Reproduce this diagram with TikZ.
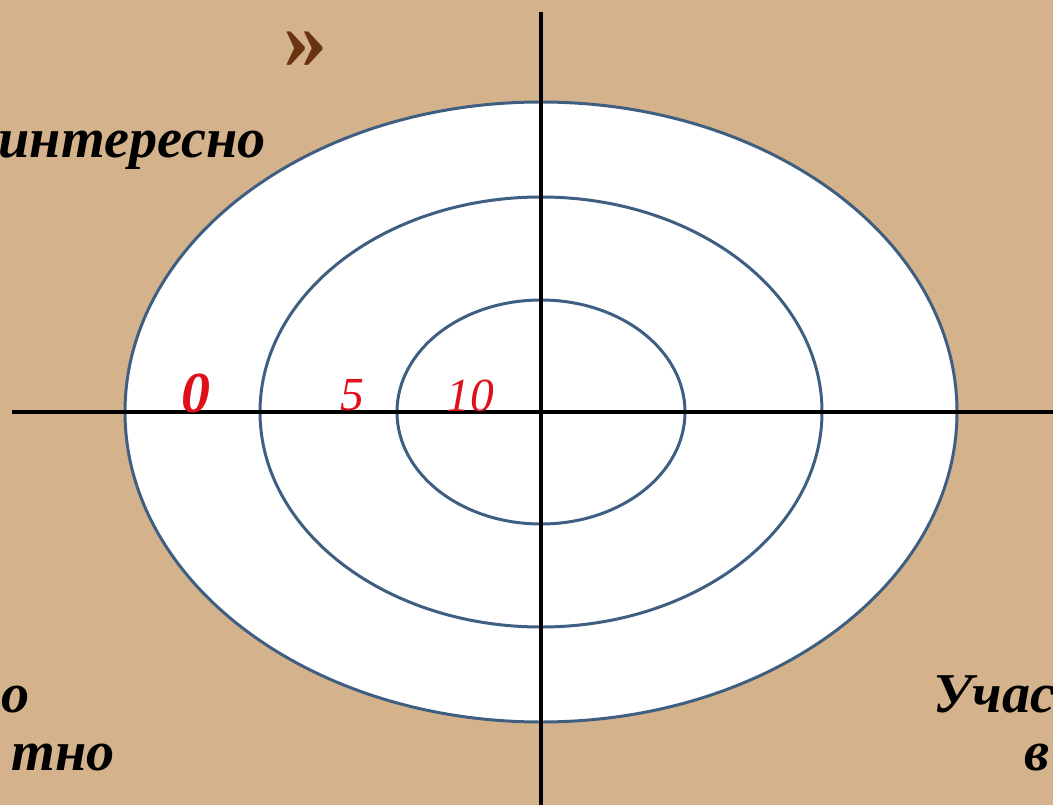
\documentclass[tikz,border=0pt]{standalone}
\usepackage{fontspec}
\setmainfont{Liberation Serif}
\usetikzlibrary{positioning}
\definecolor{paper}{HTML}{D4B28C}
\definecolor{ringblue}{HTML}{3E5F82}
\definecolor{scorered}{HTML}{E0101A}
\definecolor{quotebrown}{HTML}{6A3410}

\begin{document}
\begin{tikzpicture}[
  x=0.2mm, y=-0.2mm,
  axis/.style={draw=black,line width=2.8pt},
  ring/.style={draw=ringblue,line width=1.7pt},
  score/.style={text=scorered,inner sep=0pt,font=\fontsize{27}{27}\selectfont\itshape},
  caption/.style={inner sep=0pt,font=\fontsize{32}{32}\selectfont\bfseries\itshape}]
\fill[paper] (0,0) rectangle (1053,805);
\useasboundingbox (0,0) rectangle (1053,805);
\clip (0,0) rectangle (1053,805);
% target rings
\coordinate (mid) at (541,412);
\fill[white] (mid) ellipse [x radius=8.32cm, y radius=6.2cm];
\draw[ring] (mid) ellipse [x radius=8.32cm, y radius=6.2cm];
\draw[ring] (mid) ellipse [x radius=5.62cm, y radius=4.3cm];
\draw[ring] (mid) ellipse [x radius=2.88cm, y radius=2.24cm];
% axes
\coordinate (west) at (12,412);
\coordinate (east) at (1053,412);
\coordinate (north) at (541,12);
\coordinate (south) at (541,805);
\draw[axis] (west)--(east);
\draw[axis] (north)--(south);
% scores
\node[score,font=\fontsize{33}{33}\selectfont\bfseries\itshape] (s0) at (196,393) {0};
\node[score] (s5) at (352,395) {5};
\node[score] (s10) at (470,396) {10};
% captions
\node[caption,anchor=base east] (top) at (266,157) {интересно};
\node[caption,anchor=base west] (bl1) at (1,712) {о};
\node[caption,anchor=base east] (bl2) at (115,770) {тно};
\node[caption,anchor=base west] (br1) at (933,712) {Учас};
\node[caption,anchor=base west] (br2) at (1024,770) {в};
\node[text=quotebrown,inner sep=0pt,font=\fontsize{50}{50}\selectfont\bfseries] (more) at (305,50) {»};
\end{tikzpicture}
\end{document}
